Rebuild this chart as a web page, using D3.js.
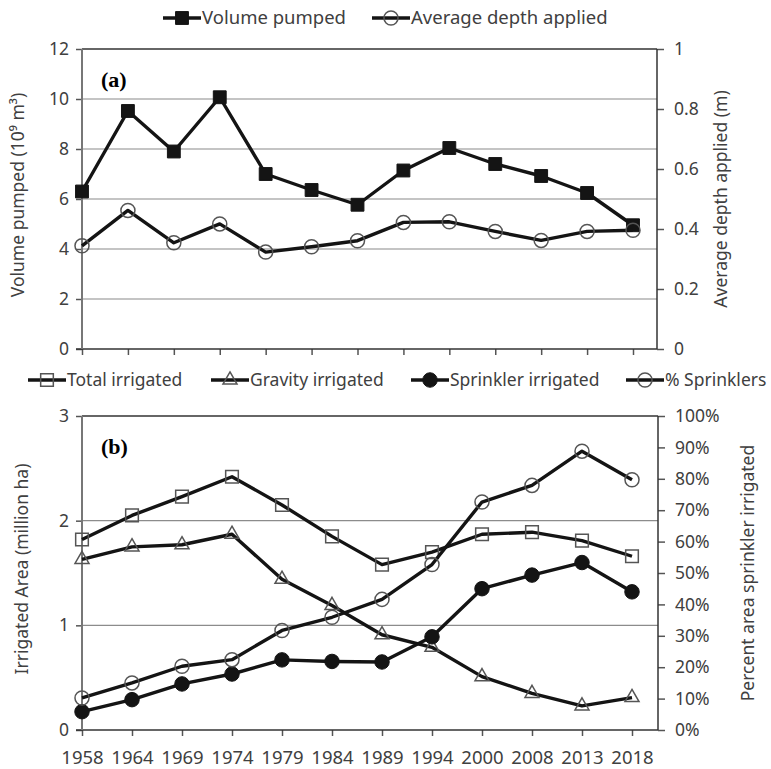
<!DOCTYPE html>
<html>
<head>
<meta charset="utf-8">
<script src="https://cdn.jsdelivr.net/npm/d3@7"></script>
<style>
  body { margin: 0; background: #fff; }
  svg { display: block; font-family: "Noto Sans", "Open Sans", sans-serif; }
</style>
</head>
<body>
<svg id="chart" width="771" height="769"></svg>
<script>
// --------------------
//  data
// --------------------
// panel (a): 13 periods, no labels on the axis
const periodsA = [1, 2, 3, 4, 5, 6, 7, 8, 9, 10, 11, 12, 13];
const volumePumped = [6.3, 9.52, 7.9, 10.07, 7.0, 6.36, 5.77, 7.14, 8.04, 7.4, 6.92, 6.24, 4.95]; // 10^9 m3
const depthApplied = [0.344, 0.462, 0.354, 0.417, 0.323, 0.341, 0.361, 0.422, 0.424, 0.392, 0.362, 0.392, 0.396]; // m
const ticksVolume = [0, 2, 4, 6, 8, 10, 12];
const ticksDepth = [0, 0.2, 0.4, 0.6, 0.8, 1];

// panel (b)
const yearsB = ["1958", "1964", "1969", "1974", "1979", "1984", "1989", "1994", "2000", "2008", "2013", "2018"];
const totalIrrigated = [1.82, 2.05, 2.23, 2.42, 2.15, 1.85, 1.58, 1.70, 1.87, 1.89, 1.81, 1.66]; // million ha
const gravityIrrigated = [1.63, 1.75, 1.77, 1.87, 1.44, 1.19, 0.91, 0.79, 0.51, 0.35, 0.23, 0.31];
const sprinklerIrrigated = [0.175, 0.29, 0.44, 0.535, 0.67, 0.655, 0.65, 0.89, 1.35, 1.48, 1.60, 1.32];
const pctSprinklers = [0.102, 0.150, 0.203, 0.224, 0.317, 0.359, 0.416, 0.527, 0.726, 0.779, 0.888, 0.797];
const ticksArea = [0, 1, 2, 3];
const ticksPct = [0, 0.1, 0.2, 0.3, 0.4, 0.5, 0.6, 0.7, 0.8, 0.9, 1];

// --------------------
//  settings
// --------------------
const ink = "#141414";
const textCol = "#404040";
const svg = d3.select("#chart");

function drawPanel(o) {
    const g = svg.append("g");
    const x = d3.scalePoint().domain(o.cats).range([o.x0, o.x1]);
    const yL = d3.scaleLinear().domain([0, d3.max(o.ticksL)]).range([o.bottom, o.top]);
    const yR = d3.scaleLinear().domain([0, d3.max(o.ticksR)]).range([o.bottom, o.top]);

    // gridlines
    g.selectAll("line.grid")
        .data(o.ticksL.slice(1, -1))
        .join("line")
        .attr("class", "grid")
        .attr("x1", o.x0).attr("x2", o.right)
        .attr("y1", d => yL(d)).attr("y2", d => yL(d))
        .attr("stroke", o.gridCol)
        .attr("stroke-width", o.gridW);

    // top border
    g.append("line")
        .attr("x1", o.x0).attr("x2", o.right)
        .attr("y1", o.top).attr("y2", o.top)
        .attr("stroke", "#333").attr("stroke-width", 1.5);

    // left / right / bottom axes
    const axL = g.append("g")
        .attr("transform", `translate(${o.x0},0)`)
        .call(d3.axisLeft(yL).tickValues(o.ticksL).tickSize(6).tickPadding(7).tickFormat(d3.format("d")));
    const axR = g.append("g")
        .attr("transform", `translate(${o.right},0)`)
        .call(d3.axisRight(yR).tickValues(o.ticksR).tickSize(7).tickPadding(10).tickFormat(o.fmtR));
    const axB = g.append("g")
        .attr("transform", `translate(0,${o.bottom})`)
        .call(d3.axisBottom(x).tickSize(6).tickPadding(15).tickFormat(o.showX ? null : ""));

    [axL, axR, axB].forEach(ax => {
        ax.select(".domain").remove();
        ax.selectAll("line").attr("stroke", "#555").attr("stroke-width", 1.5);
        ax.selectAll("text").attr("fill", textCol).attr("font-size", 17.5)
            .attr("font-family", "Noto Sans, Open Sans, sans-serif");
    });
    axB.selectAll("text").attr("font-size", 18.5);

    g.append("line")
        .attr("x1", o.x0 - 6).attr("x2", o.right)
        .attr("y1", o.bottom).attr("y2", o.bottom)
        .attr("stroke", "#333").attr("stroke-width", 1.5);
    g.append("line")
        .attr("x1", o.x0).attr("x2", o.x0)
        .attr("y1", o.top).attr("y2", o.bottom)
        .attr("stroke", "#777").attr("stroke-width", 2);
    g.append("line")
        .attr("x1", o.right).attr("x2", o.right)
        .attr("y1", o.top).attr("y2", o.bottom)
        .attr("stroke", "#333").attr("stroke-width", 1.5);

    // axis titles
    g.append("text")
        .attr("transform", `translate(${o.titleLX},${(o.top + o.bottom) / 2 - 4}) rotate(-90)`)
        .attr("text-anchor", "middle")
        .attr("fill", textCol).attr("font-size", 17.5)
        .text(o.titleL);
    g.append("text")
        .attr("transform", `translate(${o.titleRX},${(o.top + o.bottom) / 2}) rotate(-90)`)
        .attr("text-anchor", "middle")
        .attr("fill", textCol).attr("font-size", 17.5)
        .text(o.titleR);

    // panel letter
    g.append("text")
        .attr("x", 101).attr("y", o.top + 38)
        .attr("font-family", "Liberation Serif, Times New Roman, serif")
        .attr("font-weight", "bold").attr("font-size", 22)
        .attr("fill", "#000")
        .text(o.letter);

    // series
    const line = d3.line();
    o.series.forEach(s => {
        const yS = s.axis === "R" ? yR : yL;
        const pts = s.values.map((v, i) => [x(o.cats[i]), yS(v)]);
        g.append("path")
            .attr("d", line(pts))
            .attr("fill", "none")
            .attr("stroke", ink)
            .attr("stroke-width", 3.4)
            .attr("stroke-linejoin", "round");
        g.selectAll(null)
            .data(pts)
            .join("path")
            .attr("transform", d => `translate(${d[0]},${d[1]})`)
            .attr("d", d3.symbol(s.symbol, s.size))
            .attr("fill", s.filled ? ink : "none")
            .attr("stroke", s.filled ? ink : "#555")
            .attr("stroke-width", s.filled ? 1 : 1.5);
    });

    // legend
    o.series.forEach((s, i) => {
        const lx = o.legendX[i];
        const lg = g.append("g").attr("transform", `translate(${lx},${o.legendY})`);
        lg.append("line").attr("x1", 0).attr("x2", 38).attr("stroke", ink).attr("stroke-width", 3.4);
        lg.append("path")
            .attr("transform", "translate(19,0)")
            .attr("d", d3.symbol(s.symbol, s.size))
            .attr("fill", s.filled ? ink : "none")
            .attr("stroke", s.filled ? ink : "#555")
            .attr("stroke-width", s.filled ? 1 : 1.5);
        lg.append("text")
            .attr("x", 39).attr("y", 6)
            .attr("fill", textCol).attr("font-size", o.legendSize)
            .text(s.name);
    });
}

// --------------------
//  init
// --------------------
drawPanel({
    cats: periodsA, x0: 82, x1: 633, right: 657, top: 49, bottom: 349,
    ticksL: ticksVolume, ticksR: ticksDepth, fmtR: d3.format("~g"),
    gridCol: "#c4c4c4", gridW: 2, showX: false,
    titleL: "Volume pumped (10⁹ m³)", titleLX: 24,
    titleR: "Average depth applied (m)", titleRX: 727,
    letter: "(a)",
    legendY: 18, legendX: [163, 372], legendSize: 18.5,
    series: [
        {name: "Volume pumped", values: volumePumped, axis: "L", symbol: d3.symbolSquare, size: 165, filled: true},
        {name: "Average depth applied", values: depthApplied, axis: "R", symbol: d3.symbolCircle, size: 155, filled: false}
    ]
});

drawPanel({
    cats: yearsB, x0: 82, x1: 632, right: 658, top: 416, bottom: 730,
    ticksL: ticksArea, ticksR: ticksPct, fmtR: d3.format(".0%"),
    gridCol: "#8c8c8c", gridW: 1.2, showX: true,
    titleL: "Irrigated Area (million ha)", titleLX: 28,
    titleR: "Percent area sprinkler irrigated", titleRX: 754,
    letter: "(b)",
    legendY: 380, legendX: [28, 211, 411, 626], legendSize: 17.5,
    series: [
        {name: "Total irrigated", values: totalIrrigated, axis: "L", symbol: d3.symbolSquare, size: 160, filled: false},
        {name: "Gravity irrigated", values: gravityIrrigated, axis: "L", symbol: d3.symbolTriangle, size: 85, filled: false},
        {name: "Sprinkler irrigated", values: sprinklerIrrigated, axis: "L", symbol: d3.symbolCircle, size: 165, filled: true},
        {name: "% Sprinklers", values: pctSprinklers, axis: "R", symbol: d3.symbolCircle, size: 155, filled: false}
    ]
});
</script>
</body>
</html>
